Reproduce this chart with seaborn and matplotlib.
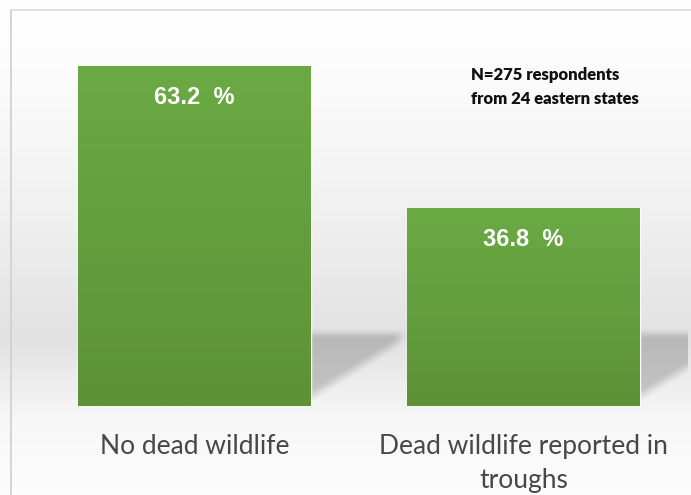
import numpy as np
import pandas as pd
import matplotlib
matplotlib.use("Agg")
import matplotlib.pyplot as plt
from matplotlib.colors import LinearSegmentedColormap
import seaborn as sns

categories = ["No dead wildlife", "Dead wildlife reported in\ntroughs"]
values = [63.2, 36.8]
value_labels = ["63.2  %", "36.8  %"]
note = "N=275 respondents\nfrom 24 eastern states"

sns.set_theme(style="white")
plt.rcParams["font.family"] = ["Lato", "DejaVu Sans"]

fig = plt.figure(figsize=(6.91, 4.95), dpi=100)
W, H = 691, 495

# background gradient (figure-level)
bg = fig.add_axes([0, 0, 1, 1], zorder=-10)
ys = np.linspace(0, 1, 500)  # 0 = top
def shade(y):
    px = y * H
    if px < 340:
        return 1.0 - 0.115 * (px / 340) ** 1.4
    elif px < 420:
        return 0.885 + 0.085 * ((px - 340) / 80)
    else:
        return 0.97 + 0.02 * ((px - 420) / 75)
col = np.array([shade(y) for y in ys])
img = np.repeat(col[:, None], 10, axis=1)
bg.imshow(np.dstack([img, img, img]), aspect="auto", extent=[0, 1, 0, 1], origin="upper")
bg.plot([11 / W, 11 / W], [0, 1 - 10 / H], color="#cfcfcf", lw=1.2)
bg.plot([11 / W, 1], [1 - 10 / H, 1 - 10 / H], color="#dcdcdc", lw=1.2)
bg.set_xlim(0, 1); bg.set_ylim(0, 1)
bg.axis("off")

# main axes
ax_left = 30 / W
ax_w = 658 / W
ax_bottom = (H - 406) / H
px_per_unit = 340 / 63.2
ymax = 70
ax_h = ymax * px_per_unit / H
ax = fig.add_axes([ax_left, ax_bottom, ax_w, ax_h])
ax.patch.set_alpha(0)

df = pd.DataFrame({"category": categories, "value": values})
sns.barplot(data=df, x="category", y="value", color="#65a13c", saturation=1,
            width=233 / 329, ax=ax, zorder=3)
ax.set_xlim(-0.5, 1.5)
ax.set_ylim(0, ymax)

def smooth(t):
    t = np.clip(t, 0, 1)
    return t * t * (3 - 2 * t)

# soft diagonal shadows to the right of each bar, plus bar gradients
green = LinearSegmentedColormap.from_list("g", ["#6aaa43", "#5d9237"])
grad = np.linspace(0, 1, 256)[:, None]
bars = list(ax.patches)
for p in bars:
    x0, w, h = p.get_x(), p.get_width(), p.get_height()
    xr = x0 + w
    gap = 1 - w
    nx, ny = 200, 200
    u = np.linspace(0, gap, nx)[None, :]
    v = np.linspace(18, 0, ny)[:, None]
    top = 14.6
    lower = 0.3 + (u / gap) * 11.0
    a_top = smooth((top - v) / 2.2)
    a_low = smooth((v - lower) / 3.0)
    a_side = smooth(1 - (u / gap - 0.85) / 0.2)
    alpha = 0.30 * a_top * a_low * a_side
    rgba = np.zeros((ny, nx, 4))
    rgba[..., :3] = 0.35
    rgba[..., 3] = alpha
    ax.imshow(rgba, aspect="auto", extent=[xr, xr + gap, 0, 18], origin="upper",
              zorder=1, interpolation="bilinear")
    im = ax.imshow(grad, cmap=green, aspect="auto", extent=[x0, xr, 0, h],
                   origin="upper", zorder=4)
    im.set_clip_path(p)

for p, lab in zip(bars, value_labels):
    ax.text(p.get_x() + p.get_width() / 2, p.get_height() - 31 / px_per_unit, lab,
            ha="center", va="center", color="white", fontsize=17, fontweight="bold",
            family=["Liberation Sans", "DejaVu Sans"], zorder=5)

ax.set_xlim(-0.5, 1.5)
ax.set_ylim(0, ymax)
ax.text((471 - 30) / 658, (406 - 87) / (ymax * px_per_unit), note,
        transform=ax.transAxes, ha="left", va="center",
        fontsize=12, fontweight="heavy", color="#111111", linespacing=1.6)

ax.set_xlabel("")
ax.set_ylabel("")
ax.set_yticks([])
ax.tick_params(axis="x", length=0, pad=20, labelsize=19, labelcolor="#474747")
for lbl in ax.get_xticklabels():
    lbl.set_linespacing(1.45)
    lbl.set_va("top")
for s in ax.spines.values():
    s.set_visible(False)

fig.savefig("out.png", dpi=100)
